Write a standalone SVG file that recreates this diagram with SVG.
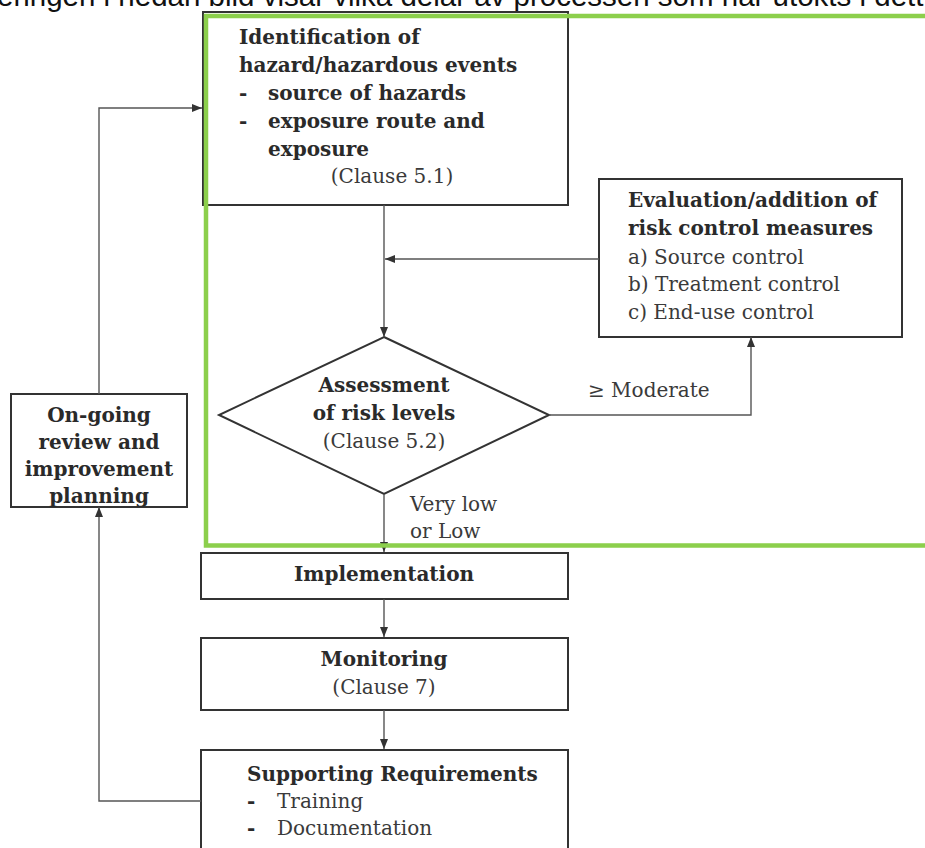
<svg xmlns="http://www.w3.org/2000/svg" width="925" height="848" viewBox="0 0 925 848">
<defs>
<marker id="arr" markerUnits="userSpaceOnUse" markerWidth="10" markerHeight="8" refX="10" refY="4" orient="auto">
<path d="M0,0 L10,4 L0,8 z" fill="#333"/>
</marker>
<style>
.box{fill:#fff;stroke:#333;stroke-width:2}
.con{fill:none;stroke:#555;stroke-width:1.4}
.b{font-family:"DejaVu Serif","Liberation Serif",serif;font-weight:bold;font-size:20px;fill:#2a2a2a}
.r{font-family:"DejaVu Serif","Liberation Serif",serif;font-size:20px;fill:#3a3a3a}
.c{text-anchor:middle}
.top{font-family:"Liberation Sans",Arial,sans-serif;font-size:29.5px;fill:#111}
</style>
</defs>
<rect width="925" height="848" fill="#fff"/>
<text class="top" x="-3" y="6">eringen i nedan bild visar vilka delar av processen som har utökts i dett</text>

<g id="identification">
<rect class="box" x="203" y="12" width="365" height="193"/>
<text class="b" x="239" y="44">Identification of</text>
<text class="b" x="239" y="72">hazard/hazardous events</text>
<text class="b" x="239" y="100">-</text>
<text class="b" x="268" y="100">source of hazards</text>
<text class="b" x="239" y="128">-</text>
<text class="b" x="268" y="128">exposure route and</text>
<text class="b" x="268" y="156">exposure</text>
<text class="r c" x="392" y="183">(Clause 5.1)</text>
</g>

<g id="evaluation">
<rect class="box" x="599" y="179" width="303" height="158"/>
<text class="b" x="628" y="207">Evaluation/addition of</text>
<text class="b" x="628" y="235">risk control measures</text>
<text class="r" x="628" y="264">a) Source control</text>
<text class="r" x="628" y="291">b) Treatment control</text>
<text class="r" x="628" y="319">c) End-use control</text>
</g>

<g id="assessment">
<polygon class="box" points="384,337 549,415 384,494 219,415"/>
<text class="b c" x="384" y="392">Assessment</text>
<text class="b c" x="384" y="420">of risk levels</text>
<text class="r c" x="384" y="448">(Clause 5.2)</text>
</g>

<g id="ongoing">
<rect class="box" x="11" y="394" width="176" height="113"/>
<text class="b c" x="99" y="422">On-going</text>
<text class="b c" x="99" y="449">review and</text>
<text class="b c" x="99" y="476">improvement</text>
<text class="b c" x="99" y="503">planning</text>
</g>

<g id="implementation">
<rect class="box" x="201" y="553" width="367" height="46"/>
<text class="b c" x="384" y="581">Implementation</text>
</g>

<g id="monitoring">
<rect class="box" x="201" y="638" width="367" height="72"/>
<text class="b c" x="384" y="666">Monitoring</text>
<text class="r c" x="384" y="694">(Clause 7)</text>
</g>

<g id="supporting">
<rect class="box" x="201" y="750" width="367" height="120"/>
<text class="b" x="247" y="781">Supporting Requirements</text>
<text class="b" x="247" y="808">-</text>
<text class="r" x="277" y="808">Training</text>
<text class="b" x="247" y="835">-</text>
<text class="r" x="277" y="835">Documentation</text>
</g>

<g id="connectors">
<path class="con" d="M384,205 V337" marker-end="url(#arr)"/>
<path class="con" d="M599,259 H385" marker-end="url(#arr)"/>
<path class="con" d="M549,415 H751 V337" marker-end="url(#arr)"/>
<path class="con" d="M384,494 V552" marker-end="url(#arr)"/>
<path class="con" d="M384,599 V637" marker-end="url(#arr)"/>
<path class="con" d="M384,710 V749" marker-end="url(#arr)"/>
<path class="con" d="M201,801 H99 V507" marker-end="url(#arr)"/>
<path class="con" d="M99,394 V108 H202" marker-end="url(#arr)"/>
<text class="r" x="588" y="397">≥ Moderate</text>
<text class="r" x="410" y="511">Very low</text>
<text class="r" x="410" y="538">or Low</text>
</g>

<g id="highlight">
<path d="M940,16 H206 V545.5 H940" fill="none" stroke="#8ccf4c" stroke-width="4.5"/>
</g>
</svg>
